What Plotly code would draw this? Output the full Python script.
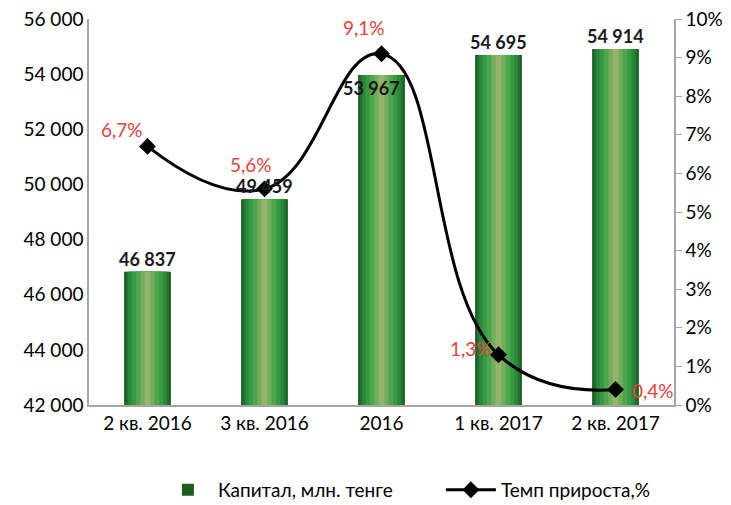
import plotly.graph_objects as go

categories = ["2 кв. 2016", "3 кв. 2016", "2016", "1 кв. 2017", "2 кв. 2017"]
capital = [46837, 49459, 53967, 54695, 54914]
growth = [0.067, 0.056, 0.091, 0.013, 0.004]
capital_labels = ["46 837", "49 459", "53 967", "54 695", "54 914"]
growth_labels = ["6,7%", "5,6%", "9,1%", "1,3%", "0,4%"]

pos = list(range(len(categories)))
FONT = "Lato"
fig = go.Figure()

# layered bars to imitate Excel's shaded columns
layers = [(0.40, "#1b5e24", True), (0.37, "#22722d", False), (0.33, "#2a8838", False),
          (0.27, "#349b43", False), (0.20, "#4ea54e", False), (0.12, "#74ad5d", False),
          (0.05, "#95b46c", False)]
for w, col, show in layers:
    fig.add_trace(go.Bar(
        x=pos, y=capital, width=w, marker=dict(color=col, line=dict(width=0)),
        name="Капитал, млн. тенге", showlegend=show,
    ))

fig.add_trace(go.Scatter(
    x=pos, y=growth, yaxis="y2", mode="lines+markers",
    name="Темп прироста,%",
    line=dict(color="black", width=3, shape="spline", smoothing=1.3),
    marker=dict(symbol="diamond", size=13, color="black"),
))

ann = []
for i, (v, t) in enumerate(zip(capital, capital_labels)):
    if i == 2:
        ann.append(dict(x=pos[i], y=v, text="<b>%s</b>" % t, showarrow=False, yanchor="top",
                        xshift=-10, yshift=0, font=dict(family=FONT, size=18, color="#1a1a1a")))
    else:
        ann.append(dict(x=pos[i], y=v, text="<b>%s</b>" % t, showarrow=False, yanchor="bottom",
                        yshift=0, font=dict(family=FONT, size=18, color="#1a1a1a")))

offsets = [(-26, 17), (-14, 24), (-18, 26), (-28, 6), (37, -1)]
for i, (v, t) in enumerate(zip(growth, growth_labels)):
    dx, dy = offsets[i]
    ann.append(dict(x=pos[i], y=v, yref="y2", text=t, showarrow=False, xshift=dx, yshift=dy,
                    font=dict(family=FONT, size=19, color="#e8403a")))

fig.update_layout(
    width=731, height=505,
    margin=dict(l=89, r=57, t=19, b=100),
    paper_bgcolor="white", plot_bgcolor="white",
    barmode="overlay",
    separators=", ",
    font=dict(family=FONT, size=19, color="black"),
    xaxis=dict(range=[-0.5, 4.5], tickvals=pos, ticktext=categories, showline=True,
               linecolor="#a6a6a6", linewidth=1.5, ticks="", showgrid=False, zeroline=False,
               automargin=False, tickfont=dict(family=FONT, size=19)),
    yaxis=dict(range=[42000, 56000], dtick=2000, tickformat=",d", showline=True,
               linecolor="#a6a6a6", linewidth=1.5, showgrid=False, ticks="", automargin=False,
               tickfont=dict(family=FONT, size=19), zeroline=False),
    yaxis2=dict(range=[0, 0.10], dtick=0.01, tickformat=".0%", overlaying="y", side="right",
                showline=True, linecolor="#a6a6a6", linewidth=1.5, showgrid=False,
                ticks="outside", ticklen=6, tickcolor="#a6a6a6", automargin=False,
                tickfont=dict(family=FONT, size=19), zeroline=False),
    legend=dict(orientation="h", xref="container", yref="container", x=0.216, xanchor="left",
                y=0.03, yanchor="middle", font=dict(family=FONT, size=19),
                entrywidth=218, itemwidth=50, tracegroupgap=0),
    annotations=ann,
)

fig.write_html("out.html", config={"displayModeBar": False},
               post_script="document.body.style.margin='0';")
